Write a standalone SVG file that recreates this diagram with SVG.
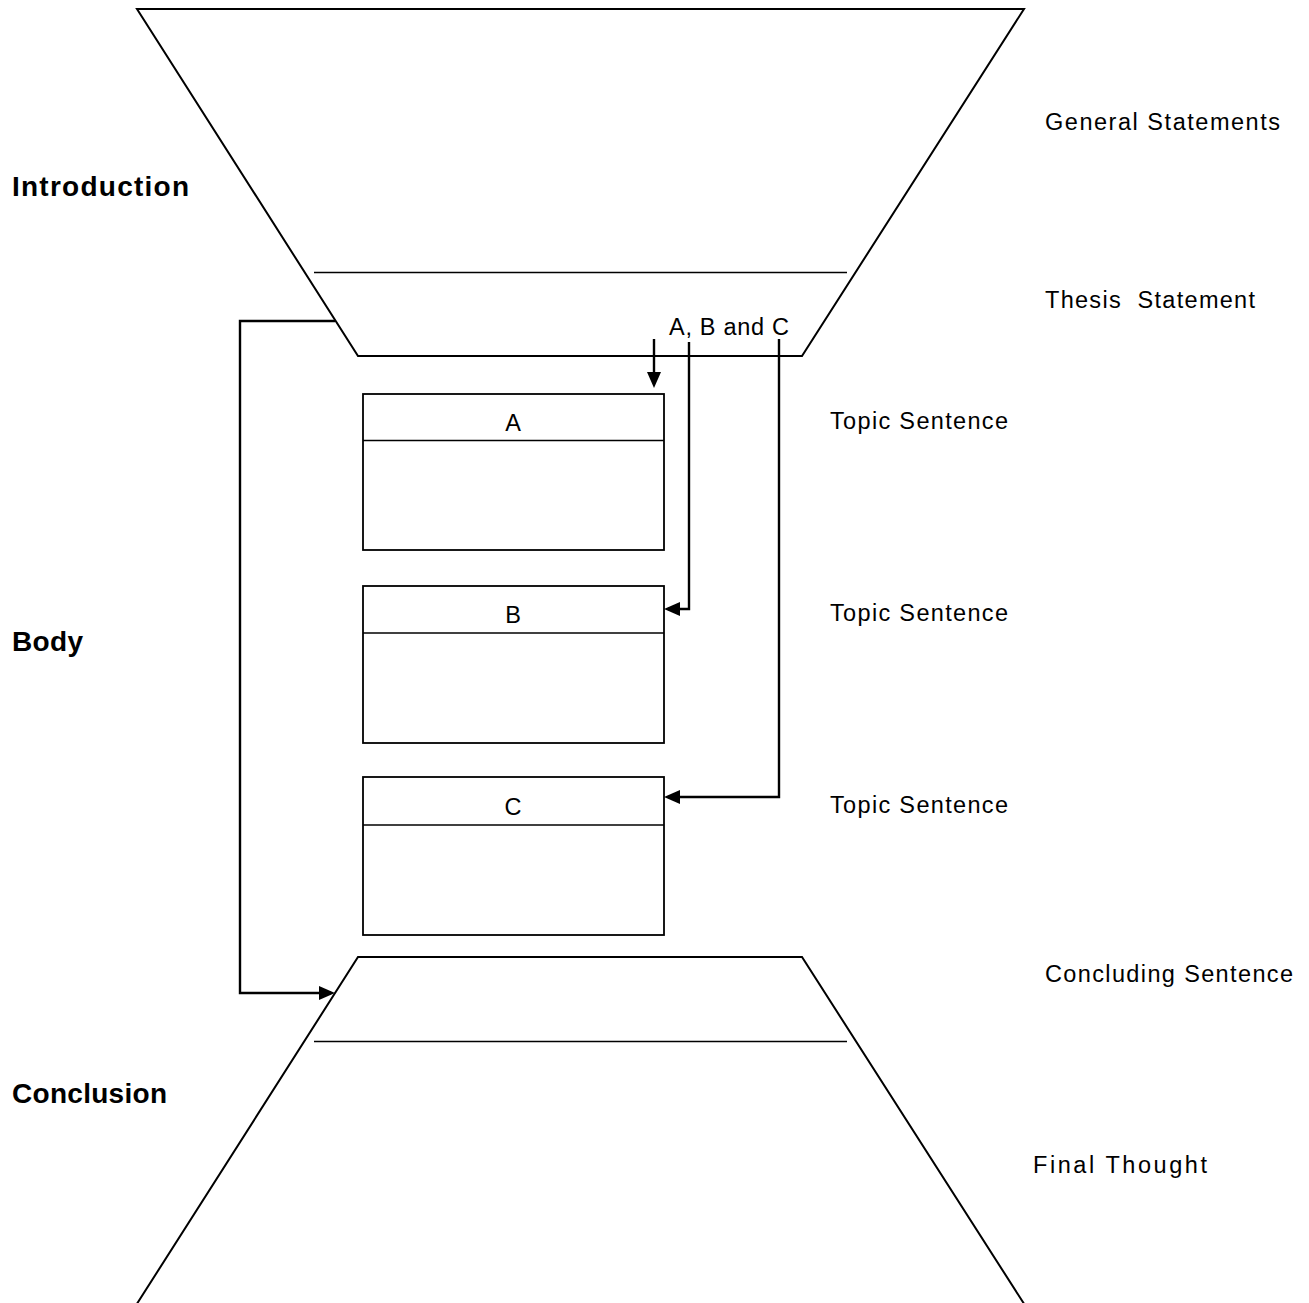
<svg xmlns="http://www.w3.org/2000/svg" width="1309" height="1303" viewBox="0 0 1309 1303">
<style>
.shape{fill:none;stroke:#000;stroke-width:2;stroke-linejoin:miter}
.div{fill:none;stroke:#000;stroke-width:1.6}
.box{fill:#fff;stroke:#000;stroke-width:1.8}
.conn{fill:none;stroke:#000;stroke-width:2.4}
.t{font-family:"Liberation Sans",Arial,sans-serif;font-size:23.5px;fill:#000}
.b{font-family:"Liberation Sans",Arial,sans-serif;font-size:28px;font-weight:bold;fill:#000}
.c{text-anchor:middle}
</style>
<defs>
<marker id="arr" markerUnits="userSpaceOnUse" markerWidth="18" markerHeight="16" refX="12" refY="7" orient="auto">
<path d="M0,0 L16,7 L0,14 z" fill="#000"/>
</marker>
</defs>
<rect width="1309" height="1303" fill="#fff"/>

<g id="introduction">
<polygon class="shape" points="137,9 1024,9 802,356 358,356"/>
<line class="div" x1="314" y1="272.5" x2="847" y2="272.5"/>
<text class="b" x="12" y="196" textLength="177" lengthAdjust="spacing">Introduction</text>
<text class="t" x="1045" y="130" textLength="235" lengthAdjust="spacing">General Statements</text>
<text class="t" x="1045" y="308" textLength="210" lengthAdjust="spacing" xml:space="preserve">Thesis  Statement</text>
<text class="t" x="669" y="335" textLength="120" lengthAdjust="spacing">A, B and C</text>
</g>

<g id="body-label">
<text class="b" x="12" y="651" textLength="71" lengthAdjust="spacing">Body</text>
</g>

<g id="box-a">
<rect class="box" x="363" y="394" width="301" height="156"/>
<line class="div" x1="363" y1="440.5" x2="664" y2="440.5"/>
<text class="t c" x="513" y="431">A</text>
<text class="t" x="830" y="429" textLength="178" lengthAdjust="spacing">Topic Sentence</text>
</g>

<g id="box-b">
<rect class="box" x="363" y="586" width="301" height="157"/>
<line class="div" x1="363" y1="633" x2="664" y2="633"/>
<text class="t c" x="513" y="623">B</text>
<text class="t" x="830" y="621" textLength="178" lengthAdjust="spacing">Topic Sentence</text>
</g>

<g id="box-c">
<rect class="box" x="363" y="777" width="301" height="158"/>
<line class="div" x1="363" y1="825" x2="664" y2="825"/>
<text class="t c" x="513" y="815">C</text>
<text class="t" x="830" y="813" textLength="178" lengthAdjust="spacing">Topic Sentence</text>
</g>

<g id="conclusion">
<polyline class="shape" points="133,1310 358,957 802,957 1028,1310"/>
<line class="div" x1="314" y1="1041.5" x2="847" y2="1041.5"/>
<text class="b" x="12" y="1103" textLength="155" lengthAdjust="spacing">Conclusion</text>
<text class="t" x="1045" y="982" textLength="248" lengthAdjust="spacing">Concluding Sentence</text>
<text class="t" x="1033" y="1173" textLength="174" lengthAdjust="spacing">Final Thought</text>
</g>

<g id="connectors">
<path class="conn" d="M654,339 V384" marker-end="url(#arr)"/>
<path class="conn" d="M689,342 V609 H668" marker-end="url(#arr)"/>
<path class="conn" d="M779,339 V797 H668" marker-end="url(#arr)"/>
<path class="conn" d="M335,321 H240 V993 H331" marker-end="url(#arr)"/>
</g>
</svg>
